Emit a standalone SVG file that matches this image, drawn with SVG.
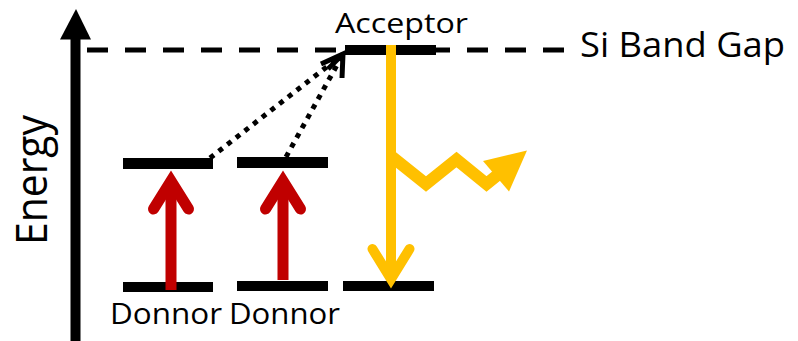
<svg xmlns="http://www.w3.org/2000/svg" width="798" height="341" viewBox="0 0 798 341">
<style>
.lvl{fill:#000}
.txt{font-family:"Open Sans","Liberation Sans",sans-serif;fill:#000}
.red{fill:none;stroke:#C00000;stroke-width:11;stroke-linejoin:miter;stroke-linecap:round}
.yel{fill:none;stroke:#FFC000;stroke-width:10;stroke-linejoin:miter;stroke-linecap:round}
.dot{fill:none;stroke:#000;stroke-width:5;stroke-dasharray:5 6}
.ah{fill:none;stroke:#000;stroke-width:5;stroke-linecap:butt;stroke-linejoin:miter}
</style>
<rect width="798" height="341" fill="#fff"/>
<g id="axis">
<line x1="75.5" y1="341" x2="75.5" y2="36" stroke="#000" stroke-width="10"/>
<polygon points="60,39.5 76,9 91,39.5" fill="#000"/>
<text class="txt" font-size="43" transform="translate(47,245) rotate(-90)" textLength="130" lengthAdjust="spacingAndGlyphs">Energy</text>
</g>
<g id="bandgap">
<line x1="87" y1="50" x2="565" y2="50" stroke="#000" stroke-width="5" stroke-dasharray="21 17"/>
<text class="txt" x="580" y="57" font-size="35" textLength="205" lengthAdjust="spacingAndGlyphs">Si Band Gap</text>
</g>
<g id="acceptor">
<rect class="lvl" x="345" y="45" width="91" height="10"/>
<text class="txt" x="335" y="33" font-size="28" textLength="133" lengthAdjust="spacingAndGlyphs">Acceptor</text>
</g>
<g id="acceptor-ground">
<rect class="lvl" x="343" y="281" width="91" height="10"/>
</g>
<g id="donor1">
<rect class="lvl" x="123" y="158" width="90" height="11"/>
<rect class="lvl" x="123" y="282" width="90" height="10"/>
<text class="txt" x="110" y="324" font-size="29" textLength="112" lengthAdjust="spacingAndGlyphs">Donnor</text>
</g>
<g id="donor2">
<rect class="lvl" x="237" y="157" width="91" height="11"/>
<rect class="lvl" x="237" y="281" width="91" height="10"/>
<text class="txt" x="229" y="324" font-size="29" textLength="111" lengthAdjust="spacingAndGlyphs">Donnor</text>
</g>
<g id="connectors">
<line x1="171" y1="290" x2="171" y2="182" stroke="#C00000" stroke-width="11"/>
<path class="red" d="M153.5,209 L171,181 L188.5,209"/>
<line x1="283" y1="280" x2="283" y2="182" stroke="#C00000" stroke-width="11"/>
<path class="red" d="M265.5,209 L283,181 L300.5,209"/>
<line class="dot" x1="210" y1="158" x2="342" y2="55"/>
<line class="dot" x1="286" y1="157" x2="342" y2="56"/>
<path class="ah" d="M321,64 L343,54 L342,78"/>
<path class="ah" d="M328,69 L343,54"/>
<line x1="391" y1="45" x2="391" y2="280" stroke="#FFC000" stroke-width="10"/>
<path class="yel" d="M372.5,249 L391,279 L409.5,249"/>
<polyline points="391,156 426,184 456.5,159.5 486.5,184 500,173" fill="none" stroke="#FFC000" stroke-width="12" stroke-linejoin="miter"/>
<polygon points="483,161 527,150.5 509,191.5" fill="#FFC000"/>
</g>
</svg>
